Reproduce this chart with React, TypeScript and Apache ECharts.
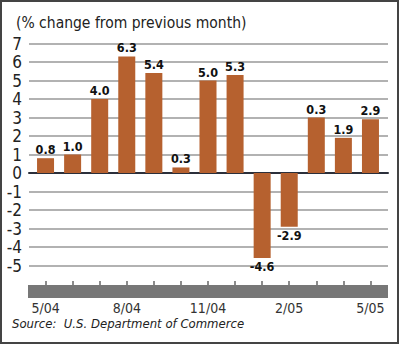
import React, { useEffect, useRef } from "react";
import * as echarts from "echarts";

const categories = ["5/04", "6/04", "7/04", "8/04", "9/04", "10/04", "11/04", "12/04", "1/05", "2/05", "3/05", "4/05", "5/05"];
const values = [0.8, 1.0, 4.0, 6.3, 5.4, 0.3, 5.0, 5.3, -4.6, -2.9, 3.0, 1.9, 2.9];
const printedLabels = ["0.8", "1.0", "4.0", "6.3", "5.4", "0.3", "5.0", "5.3", "-4.6", "-2.9", "0.3", "1.9", "2.9"];
const shownTicks = ["5/04", "8/04", "11/04", "2/05", "5/05"];

const FONT = "'DejaVu Sans Condensed', 'Liberation Sans Narrow', sans-serif";

export default function App() {
  const ref = useRef<HTMLDivElement>(null);
  useEffect(() => {
    document.body.style.margin = "0";
    const chart = echarts.init(ref.current!, null, { renderer: "svg" });
    const top = 43.5;
    const height = 222;
    chart.setOption({
      animation: false,
      backgroundColor: "#fff",
      title: {
        text: "(% change from previous month)",
        left: 11,
        top: 10,
        textStyle: { fontFamily: FONT, fontSize: 15.5, fontWeight: "normal", color: "#222" },
      },
      grid: [
        { left: 29, right: 12, top, height },
        { left: 32, right: 16, top, height },
        { left: 32, right: 16, top: 271, height: 10 },
      ],
      xAxis: [
        { type: "value", gridIndex: 0, show: true, min: 0, max: 1, axisLine: { onZero: true, lineStyle: { color: "#2b2f3a", width: 2 } }, axisTick: { show: false }, axisLabel: { show: false }, splitLine: { show: false } },
        { type: "category", gridIndex: 1, data: categories, show: false },
        {
          type: "category",
          gridIndex: 2,
          data: categories,
          position: "bottom",
          show: true,
          axisLine: { show: false, onZero: false },
          axisTick: { show: true, inside: false, length: 4, alignWithLabel: true, interval: 0, lineStyle: { color: "#666", width: 1.5 } },
          axisLabel: {
            show: true,
            interval: 0,
            margin: 20,
            fontFamily: FONT,
            fontSize: 14,
            color: "#333",
            formatter: (v: string) => (shownTicks.includes(v) ? v : ""),
          },
        },
      ],
      yAxis: [
        {
          type: "value",
          gridIndex: 0,
          min: -5,
          max: 7,
          interval: 1,
          axisLine: { show: false },
          axisTick: { show: false },
          axisLabel: { margin: 7, fontFamily: FONT, fontSize: 17, color: "#222" },
          splitLine: { lineStyle: { color: "#999", width: 1.5 } },
        },
        { type: "value", gridIndex: 1, min: -5, max: 7, show: false },
        { type: "value", gridIndex: 2, min: 0, max: 1, show: false },
      ],
      graphic: [
        { type: "rect", shape: { x: 28, y: 285, width: 360, height: 13 }, style: { fill: "#777" }, z: 0 },
        {
          type: "text",
          left: 12,
          top: 317,
          style: { text: "Source:  U.S. Department of Commerce", font: `italic 13px ${FONT}`, fill: "#222" },
        },
        { type: "rect", shape: { x: 1, y: 1, width: 397, height: 342 }, style: { fill: "none", stroke: "#444", lineWidth: 2 }, z: 10 },
      ],
      series: [
        {
          type: "bar",
          xAxisIndex: 1,
          yAxisIndex: 1,
          data: values.map((v) => ({
            value: v,
            label: { position: v < 0 ? "bottom" : "top" },
          })),
          barWidth: 17,
          itemStyle: { color: "#b6612f" },
          label: {
            show: true,
            distance: 2,
            fontFamily: FONT,
            fontSize: 12.5,
            fontWeight: "bold",
            color: "#111",
            formatter: (p: any) => printedLabels[p.dataIndex],
          },
          z: 3,
        },
        {
          type: "line",
          xAxisIndex: 2,
          yAxisIndex: 2,
          data: [],
          silent: true,
        },
      ],
    });
    return () => chart.dispose();
  }, []);
  return <div ref={ref} style={{ width: 400, height: 344 }} />;
}
